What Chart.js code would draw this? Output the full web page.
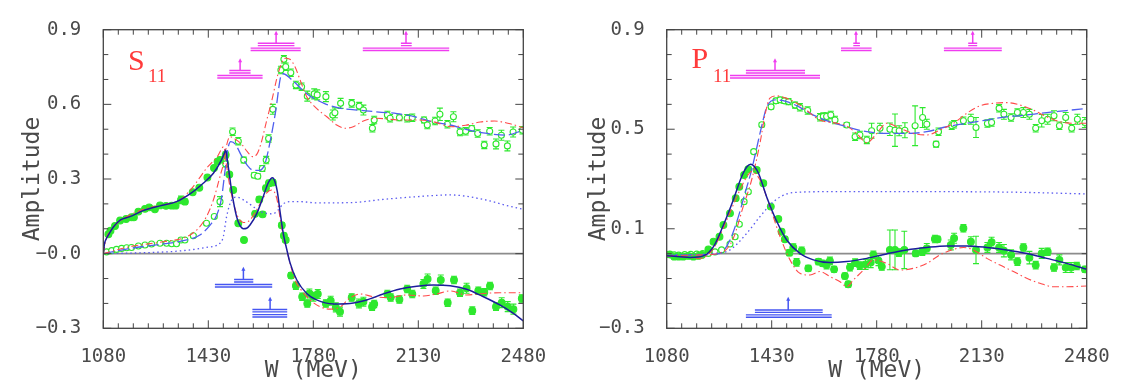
<!DOCTYPE html>
<html>
<head>
<meta charset="utf-8">
<script src="https://cdn.jsdelivr.net/npm/chart.js@4/dist/chart.umd.min.js"></script>
<style>
  html, body { margin: 0; padding: 0; background: #fff; }
  #wrap { position: relative; width: 1132px; height: 385px; }
  #wrap canvas { position: absolute; top: 0; }
</style>
</head>
<body>
<div id="wrap">
  <canvas id="s11" width="566" height="385" style="left:0"></canvas>
  <canvas id="p11" width="566" height="385" style="left:566px"></canvas>
</div>
<script>
// axis ticks
const xTicks = [1080, 1430, 1780, 2130, 2480];
const s11YTicks = [-0.3, 0, 0.3, 0.6, 0.9];
const p11YTicks = [-0.3, 0.1, 0.5, 0.9];

// ---- S11 data ----
const s11ReW = [1097,1104,1119,1136,1156,1174,1182,1197,1219,1233,1252,1269,1289,1308,1321,1339,1352,1378,1400,1427,1449,1461,1469,1488,1500,1513,1530,1549,1586,1600,1611,1622,1632,1645,1675,1682,1688,1706,1722,1743,1760,1767,1780,1795,1822,1838,1855,1869,1908,1932,1947,1976,1983,2027,2038,2067,2093,2110,2147,2161,2188,2205,2228,2249,2269,2291,2310,2330,2350,2369,2389,2408,2428,2447,2475];
const s11ReA = [0.078,0.092,0.111,0.133,0.139,0.146,0.146,0.169,0.180,0.186,0.178,0.194,0.192,0.193,0.193,0.216,0.209,0.247,0.265,0.306,0.344,0.370,0.377,0.397,0.318,0.256,0.122,0.055,0.160,0.218,0.158,0.263,0.283,0.286,0.114,0.072,0.055,-0.088,-0.129,-0.173,-0.200,-0.160,-0.173,-0.162,-0.200,-0.189,-0.216,-0.233,-0.176,-0.200,-0.193,-0.213,-0.202,-0.162,-0.176,-0.184,-0.142,-0.162,-0.122,-0.102,-0.149,-0.106,-0.197,-0.106,-0.157,-0.139,-0.229,-0.149,-0.155,-0.130,-0.213,-0.197,-0.213,-0.223,-0.180];
const s11ReErr = [0.006,0.006,0.006,0.006,0.006,0.006,0.006,0.006,0.007,0.007,0.007,0.007,0.007,0.008,0.008,0.015,0.010,0.006,0.006,0.006,0.008,0.010,0.010,0.012,0.008,0.008,0.008,0.008,0.010,0.010,0.010,0.012,0.012,0.012,0.010,0.010,0.010,0.012,0.015,0.015,0.015,0.018,0.018,0.018,0.015,0.018,0.018,0.018,0.015,0.018,0.018,0.015,0.015,0.015,0.015,0.015,0.015,0.015,0.018,0.020,0.015,0.020,0.015,0.015,0.015,0.020,0.015,0.015,0.015,0.015,0.015,0.020,0.020,0.020,0.015];

const s11ImW = [1091,1108,1124,1141,1158,1174,1197,1219,1241,1269,1291,1308,1324,1339,1352,1380,1424,1450,1469,1488,1511,1530,1548,1583,1595,1610,1623,1631,1645,1672,1682,1688,1705,1722,1741,1760,1783,1793,1822,1845,1852,1871,1908,1933,1947,1977,1983,2027,2036,2067,2093,2110,2149,2160,2186,2202,2227,2247,2269,2288,2308,2328,2350,2368,2389,2407,2427,2446,2477];
const s11ImA = [0.007,0.012,0.017,0.021,0.024,0.025,0.031,0.035,0.039,0.042,0.042,0.040,0.040,0.055,0.055,0.072,0.122,0.149,0.209,0.360,0.490,0.452,0.376,0.315,0.311,0.342,0.376,0.463,0.580,0.738,0.781,0.751,0.727,0.678,0.671,0.633,0.642,0.638,0.631,0.557,0.566,0.604,0.604,0.593,0.577,0.504,0.537,0.557,0.544,0.546,0.544,0.546,0.537,0.517,0.533,0.560,0.520,0.550,0.489,0.492,0.503,0.483,0.437,0.492,0.441,0.476,0.433,0.489,0.496];
const s11ImErr = [0.003,0.003,0.003,0.003,0.003,0.003,0.004,0.004,0.004,0.004,0.004,0.005,0.005,0.008,0.006,0.005,0.006,0.006,0.020,0.012,0.015,0.015,0.012,0.010,0.010,0.012,0.015,0.015,0.020,0.015,0.015,0.015,0.015,0.015,0.015,0.020,0.020,0.020,0.020,0.020,0.020,0.020,0.015,0.015,0.020,0.015,0.015,0.015,0.015,0.012,0.015,0.015,0.012,0.015,0.015,0.025,0.015,0.020,0.015,0.015,0.012,0.015,0.015,0.015,0.020,0.020,0.020,0.020,0.015];

const s11FitReW = [1080,1084,1090,1097,1113,1136,1169,1213,1269,1324,1369,1413,1447,1474,1484,1488,1493,1500,1508,1524,1535,1547,1558,1569,1591,1613,1630,1644,1652,1660,1669,1680,1691,1702,1725,1758,1791,1847,1902,1958,2013,2069,2125,2180,2236,2291,2347,2402,2447,2480];
const s11FitReA = [0.0,0.04,0.06,0.075,0.106,0.135,0.149,0.173,0.192,0.209,0.240,0.283,0.323,0.377,0.405,0.417,0.380,0.320,0.250,0.150,0.115,0.100,0.102,0.115,0.160,0.229,0.285,0.305,0.290,0.250,0.170,0.080,0.020,-0.035,-0.106,-0.160,-0.186,-0.202,-0.200,-0.186,-0.162,-0.142,-0.131,-0.126,-0.129,-0.143,-0.173,-0.206,-0.240,-0.270];

const s11FitImW = [1080,1169,1280,1358,1402,1436,1458,1474,1486,1495,1505,1520,1540,1560,1580,1601,1619,1637,1655,1671,1679,1710,1758,1818,1878,1938,1999,2059,2119,2179,2240,2300,2360,2420,2480];
const s11FitImA = [0.0,0.021,0.039,0.055,0.075,0.115,0.155,0.223,0.336,0.420,0.450,0.440,0.395,0.355,0.335,0.335,0.362,0.456,0.576,0.710,0.723,0.697,0.643,0.603,0.583,0.576,0.569,0.563,0.550,0.529,0.516,0.496,0.483,0.476,0.496];

const s11AltReW = [1080,1090,1113,1169,1224,1280,1336,1380,1424,1460,1482,1490,1502,1524,1547,1569,1591,1624,1641,1658,1674,1697,1719,1736,1769,1802,1836,1869,1902,1936,1980,2036,2091,2147,2191,2236,2291,2347,2402,2480];
const s11AltReA = [0.0,0.06,0.106,0.155,0.182,0.196,0.216,0.270,0.343,0.390,0.430,0.360,0.270,0.162,0.125,0.135,0.176,0.243,0.256,0.223,0.109,-0.012,-0.106,-0.140,-0.186,-0.213,-0.223,-0.215,-0.178,-0.162,-0.173,-0.176,-0.166,-0.170,-0.162,-0.150,-0.166,-0.160,-0.157,-0.157];

const s11AltImW = [1080,1169,1280,1358,1397,1424,1447,1469,1482,1492,1502,1520,1541,1560,1577,1592,1605,1625,1642,1663,1686,1702,1719,1736,1758,1791,1825,1858,1886,1913,1947,1991,2069,2136,2180,2240,2288,2336,2384,2432,2480];
const s11AltImA = [0.0,0.028,0.048,0.068,0.102,0.149,0.216,0.310,0.370,0.440,0.470,0.460,0.440,0.410,0.390,0.400,0.440,0.537,0.617,0.725,0.785,0.781,0.751,0.698,0.631,0.584,0.550,0.517,0.504,0.510,0.533,0.544,0.537,0.537,0.530,0.510,0.516,0.529,0.533,0.523,0.506];

const s11DotW = [1080,1224,1336,1424,1469,1480,1491,1508,1524,1547,1580,1602,1624,1645,1660,1680,1702,1736,1791,1902,2013,2125,2236,2347,2420,2480];
const s11DotA = [0.0,0.004,0.011,0.025,0.042,0.068,0.149,0.216,0.227,0.216,0.189,0.170,0.162,0.160,0.172,0.200,0.209,0.209,0.204,0.205,0.218,0.229,0.236,0.218,0.195,0.178];

// resonance marks: [mass, arrow tip, short lo, short hi, short A, long lo, long hi, long A]
const s11TopMarks = [
  [1536, 0.785, 1500, 1571, 0.731, 1460, 1611, 0.711],
  [1656, 0.896, 1595, 1717, 0.841, 1571, 1738, 0.821],
  [2089, 0.896, 2072, 2108, 0.841, 1945, 2233, 0.821]
];
const s11BotMarks = [
  [1547, -0.053, 1516, 1580, -0.109, 1452, 1643, -0.129],
  [1636, -0.173, 1577, 1693, -0.229, 1577, 1693, -0.250]
];

// ---- P11 data ----
const p11ReW = [1090,1105,1120,1135,1152,1169,1186,1197,1219,1236,1256,1269,1291,1310,1322,1338,1352,1380,1402,1427,1452,1463,1474,1489,1502,1513,1530,1552,1586,1600,1613,1624,1638,1674,1685,1691,1708,1724,1743,1760,1769,1786,1797,1824,1841,1854,1872,1910,1932,1947,1974,1983,2027,2038,2069,2094,2111,2149,2163,2188,2204,2228,2249,2269,2289,2310,2330,2350,2371,2389,2410,2428,2447,2474];
const p11ReA = [-0.003,-0.012,-0.012,-0.012,-0.009,-0.012,-0.009,-0.005,0.017,0.048,0.068,0.115,0.162,0.223,0.269,0.316,0.339,0.336,0.283,0.189,0.139,0.088,0.058,0.004,0.025,-0.035,0.012,-0.059,-0.032,-0.039,-0.046,-0.029,-0.063,-0.090,-0.123,-0.055,-0.036,-0.048,-0.043,-0.036,-0.005,-0.028,-0.052,0.015,0.015,0.004,0.015,0.001,0.008,0.021,0.059,0.058,0.035,0.062,0.102,0.048,0.015,0.025,0.046,0.025,0.012,-0.005,-0.032,0.025,-0.016,-0.046,0.001,0.008,-0.056,-0.025,-0.056,-0.056,-0.050,-0.063];
const p11ReErr = [0.004,0.004,0.004,0.004,0.004,0.004,0.004,0.004,0.005,0.005,0.005,0.005,0.006,0.006,0.006,0.008,0.008,0.008,0.008,0.008,0.008,0.010,0.010,0.012,0.015,0.015,0.015,0.012,0.012,0.012,0.015,0.015,0.012,0.012,0.012,0.015,0.015,0.015,0.020,0.020,0.015,0.020,0.015,0.080,0.080,0.015,0.075,0.012,0.015,0.020,0.015,0.012,0.020,0.020,0.015,0.020,0.055,0.020,0.020,0.020,0.025,0.020,0.015,0.015,0.025,0.015,0.020,0.015,0.015,0.020,0.020,0.020,0.015,0.012];

const p11ImW = [1090,1105,1120,1140,1160,1180,1200,1219,1241,1263,1291,1308,1322,1338,1352,1370,1397,1428,1444,1458,1472,1486,1508,1524,1550,1591,1602,1613,1627,1641,1680,1708,1724,1747,1763,1791,1824,1841,1855,1874,1908,1933,1947,1978,1986,2030,2038,2069,2094,2111,2149,2163,2188,2204,2228,2249,2269,2289,2310,2330,2350,2371,2389,2410,2430,2449,2474];
const p11ImA = [-0.004,-0.005,-0.006,-0.004,-0.003,-0.002,0.0,0.001,0.007,0.015,0.039,0.068,0.118,0.209,0.249,0.410,0.518,0.590,0.614,0.618,0.614,0.611,0.597,0.588,0.575,0.548,0.551,0.551,0.557,0.537,0.517,0.470,0.477,0.457,0.494,0.504,0.500,0.496,0.494,0.496,0.514,0.547,0.520,0.440,0.490,0.514,0.520,0.534,0.540,0.507,0.523,0.527,0.584,0.560,0.547,0.567,0.567,0.560,0.504,0.534,0.540,0.554,0.514,0.547,0.504,0.540,0.527];
const p11ImErr = [0.003,0.003,0.003,0.003,0.003,0.003,0.003,0.003,0.004,0.004,0.005,0.005,0.006,0.006,0.006,0.006,0.008,0.008,0.010,0.010,0.010,0.012,0.012,0.015,0.015,0.015,0.015,0.015,0.015,0.015,0.010,0.015,0.015,0.015,0.030,0.020,0.025,0.065,0.020,0.030,0.080,0.040,0.020,0.012,0.015,0.015,0.015,0.015,0.020,0.040,0.015,0.015,0.015,0.020,0.015,0.015,0.020,0.020,0.015,0.025,0.020,0.020,0.015,0.020,0.015,0.020,0.020];

const p11FitReW = [1080,1124,1158,1202,1236,1269,1302,1330,1348,1360,1372,1386,1413,1447,1480,1524,1569,1624,1680,1747,1813,1880,1947,2013,2080,2147,2213,2280,2347,2413,2480];
const p11FitReA = [-0.008,-0.012,-0.015,-0.009,0.028,0.115,0.216,0.310,0.350,0.359,0.350,0.323,0.229,0.129,0.055,0.001,-0.025,-0.036,-0.032,-0.019,-0.001,0.015,0.025,0.031,0.031,0.025,0.015,0.001,-0.019,-0.039,-0.063];

const p11FitImW = [1080,1200,1258,1291,1319,1341,1363,1386,1400,1413,1441,1480,1524,1569,1624,1680,1747,1813,1880,1947,2013,2080,2147,2213,2280,2347,2413,2480];
const p11FitImA = [-0.008,-0.004,0.001,0.055,0.149,0.243,0.336,0.457,0.530,0.588,0.618,0.611,0.588,0.557,0.530,0.510,0.490,0.483,0.483,0.490,0.510,0.524,0.537,0.550,0.557,0.567,0.575,0.584];

const p11AltReW = [1080,1124,1191,1236,1280,1324,1350,1363,1391,1424,1458,1491,1524,1558,1591,1624,1658,1680,1702,1736,1769,1813,1858,1902,1947,1991,2036,2069,2102,2147,2191,2236,2280,2324,2369,2413,2480];
const p11AltReA = [-0.008,-0.012,-0.019,0.021,0.135,0.256,0.315,0.330,0.296,0.189,0.068,-0.025,-0.079,-0.086,-0.072,-0.092,-0.113,-0.133,-0.106,-0.066,-0.025,-0.039,-0.066,-0.059,-0.039,-0.005,0.017,0.025,0.015,-0.019,-0.046,-0.072,-0.099,-0.119,-0.133,-0.133,-0.130];

const p11AltImW = [1080,1200,1269,1302,1335,1363,1391,1408,1424,1447,1480,1524,1591,1647,1680,1713,1747,1780,1813,1858,1902,1947,1991,2036,2080,2124,2169,2213,2258,2302,2347,2391,2436,2480];
const p11AltImA = [-0.008,-0.005,0.008,0.062,0.189,0.296,0.444,0.560,0.625,0.634,0.624,0.597,0.537,0.524,0.513,0.483,0.446,0.483,0.524,0.504,0.483,0.477,0.497,0.524,0.564,0.594,0.604,0.607,0.597,0.577,0.550,0.530,0.524,0.524];

const p11DotW = [1080,1236,1291,1347,1391,1436,1480,1524,1624,1791,2013,2236,2480];
const p11DotA = [-0.005,0.001,0.015,0.082,0.149,0.209,0.240,0.247,0.249,0.249,0.249,0.247,0.240];

const p11TopMarks = [
  [1441, 0.785, 1344, 1541, 0.731, 1291, 1591, 0.711],
  [1711, 0.896, 1702, 1724, 0.841, 1661, 1763, 0.821],
  [2100, 0.896, 2085, 2115, 0.841, 2004, 2197, 0.821]
];
const p11BotMarks = [
  [1485, -0.173, 1374, 1600, -0.231, 1344, 1630, -0.251]
];

const FONT = "'DejaVu Sans Mono', monospace";
const GREEN = '#2ee82e';

function pts(w, a) {
  return w.map((v, i) => ({x: v, y: a[i]}));
}

function curve(w, a, color, dash, width) {
  return {
    type: 'line', data: pts(w, a), borderColor: color, borderWidth: width,
    borderDash: dash, pointRadius: 0, fill: false, cubicInterpolationMode: 'monotone'
  };
}

function dots(w, a, err, filled) {
  return {
    type: 'scatter', data: pts(w, a), errors: err, showLine: false,
    borderColor: GREEN, backgroundColor: filled ? GREEN : '#fff',
    pointRadius: filled ? 3.4 : 3, borderWidth: 1.1
  };
}

// frame, inner ticks, zero line, error bars, resonance marks, wave label
const panelDecor = {
  id: 'panelDecor',
  beforeDatasetsDraw(chart, args, opts) {
    const {ctx, chartArea: a, scales: {x, y}} = chart;
    ctx.save();
    ctx.beginPath();
    ctx.rect(a.left, a.top, a.right - a.left, a.bottom - a.top);
    ctx.clip();
    const y0 = y.getPixelForValue(0);
    ctx.strokeStyle = '#8c8c8c';
    ctx.lineWidth = 1.6;
    ctx.beginPath();
    ctx.moveTo(a.left, y0);
    ctx.lineTo(a.right, y0);
    ctx.stroke();

    ctx.lineWidth = 1.1;
    chart.data.datasets.forEach(ds => {
      if (!ds.errors) return;
      ctx.strokeStyle = GREEN;
      ds.data.forEach((p, j) => {
        const e = ds.errors[j];
        const px = x.getPixelForValue(p.x);
        const t = y.getPixelForValue(p.y + e);
        const b = y.getPixelForValue(p.y - e);
        ctx.beginPath();
        ctx.moveTo(px, t); ctx.lineTo(px, b);
        ctx.moveTo(px - 3, t); ctx.lineTo(px + 3, t);
        ctx.moveTo(px - 3, b); ctx.lineTo(px + 3, b);
        ctx.stroke();
      });
    });
    ctx.restore();
  },
  afterDatasetsDraw(chart, args, opts) {
    const {ctx, scales: {x, y}} = chart;
    const drawMarks = (marks, color) => {
      ctx.strokeStyle = color;
      ctx.fillStyle = color;
      marks.forEach(m => {
        const px = x.getPixelForValue(m[0]);
        const tip = y.getPixelForValue(m[1]);
        const sy = y.getPixelForValue(m[4]);
        const ly = y.getPixelForValue(m[7]);
        ctx.lineWidth = 1.4;
        [[m[2], m[3], sy], [m[5], m[6], ly]].forEach(([lo, hi, py]) => {
          const x1 = x.getPixelForValue(lo), x2 = x.getPixelForValue(hi);
          ctx.beginPath();
          ctx.moveTo(x1, py - 1.2); ctx.lineTo(x2, py - 1.2);
          ctx.moveTo(x1, py + 1.2); ctx.lineTo(x2, py + 1.2);
          ctx.stroke();
        });
        ctx.lineWidth = 1.5;
        ctx.beginPath();
        ctx.moveTo(px, sy - 1);
        ctx.lineTo(px, tip + 3);
        ctx.stroke();
        ctx.beginPath();
        ctx.moveTo(px, tip);
        ctx.lineTo(px - 2, tip + 4);
        ctx.lineTo(px + 2, tip + 4);
        ctx.closePath();
        ctx.fill();
      });
    };
    ctx.save();
    drawMarks(opts.top, '#f03cf0');
    drawMarks(opts.bottom, '#4656f2');
    ctx.restore();
  },
  afterDraw(chart, args, opts) {
    const {ctx, chartArea: a, scales: {x, y}} = chart;
    ctx.save();
    ctx.strokeStyle = '#444';
    ctx.lineWidth = 1.3;
    ctx.strokeRect(a.left, a.top, a.right - a.left, a.bottom - a.top);
    ctx.lineWidth = 1;
    ctx.beginPath();
    for (let w = xTicks[0]; w <= xTicks[xTicks.length - 1] + 0.1; w += 50) {
      const px = x.getPixelForValue(w);
      const len = xTicks.includes(w) ? 8 : 5;
      ctx.moveTo(px, a.bottom); ctx.lineTo(px, a.bottom - len);
      ctx.moveTo(px, a.top); ctx.lineTo(px, a.top + len);
    }
    for (let k = -3; k <= 9; k++) {
      const v = k / 10;
      const py = y.getPixelForValue(v);
      const major = opts.yMajor.some(t => Math.abs(t - v) < 1e-6);
      const len = major ? 8 : 5;
      ctx.moveTo(a.left, py); ctx.lineTo(a.left + len, py);
      ctx.moveTo(a.right, py); ctx.lineTo(a.right - len, py);
    }
    ctx.stroke();

    const lb = opts.label;
    ctx.fillStyle = '#ff3b3b';
    ctx.textBaseline = 'alphabetic';
    ctx.font = "30px 'Liberation Serif', serif";
    ctx.fillText(lb.main, x.getPixelForValue(lb.w), y.getPixelForValue(lb.a));
    ctx.font = "19px 'Liberation Serif', serif";
    ctx.fillText(lb.sub, x.getPixelForValue(lb.subW), y.getPixelForValue(lb.subA));
    ctx.restore();
  }
};

function fmt(v, negZero) {
  if (Math.abs(v) < 1e-9) return negZero ? '\u22120.0' : '0.0';
  const s = Math.abs(v).toFixed(1);
  return v < 0 ? '\u2212' + s : s;
}

function makeChart(id, datasets, yTicks, negZero, yWidth, rightPad, decor) {
  return new Chart(document.getElementById(id), {
    type: 'scatter',
    data: {datasets: datasets},
    options: {
      responsive: false,
      animation: false,
      events: [],
      layout: {padding: {top: 29.7, right: rightPad, left: 0, bottom: 0}},
      plugins: {
        legend: {display: false},
        tooltip: {enabled: false},
        panelDecor: decor
      },
      scales: {
        x: {
          type: 'linear', min: 1080, max: 2480,
          afterBuildTicks: s => { s.ticks = xTicks.map(v => ({value: v})); },
          afterFit: s => { s.height = 56.7; },
          grid: {display: false},
          border: {display: false},
          ticks: {font: {family: FONT, size: 19}, color: '#4a4a4a', padding: 9, maxRotation: 0, autoSkip: false,
                  callback: v => String(v)},
          title: {display: true, text: 'W (MeV)', font: {family: FONT, size: 23}, color: '#4a4a4a', padding: {top: 0, bottom: 0}}
        },
        y: {
          type: 'linear', min: -0.3, max: 0.9,
          afterBuildTicks: s => { s.ticks = yTicks.map(v => ({value: v})); },
          afterFit: s => { s.width = yWidth; },
          grid: {display: false},
          border: {display: false},
          ticks: {font: {family: FONT, size: 19}, color: '#4a4a4a', padding: 14, callback: v => fmt(v, negZero)},
          title: {display: true, text: 'Amplitude', font: {family: FONT, size: 23}, color: '#4a4a4a', padding: {top: 19, bottom: 0}}
        }
      }
    },
    plugins: [panelDecor]
  });
}

makeChart('s11', [
  curve(s11FitReW, s11FitReA, '#1c1c9c', [], 1.5),
  curve(s11AltReW, s11AltReA, '#ff4a4a', [7, 3, 1.5, 3], 1.1),
  curve(s11AltImW, s11AltImA, '#ff4a4a', [7, 3, 1.5, 3], 1.1),
  curve(s11FitImW, s11FitImA, '#4f5fef', [11, 4], 1.3),
  curve(s11DotW, s11DotA, '#5a5af0', [1.5, 3], 1.3),
  dots(s11ReW, s11ReA, s11ReErr, true),
  dots(s11ImW, s11ImA, s11ImErr, false)
], s11YTicks, true, 103.3, 42.7, {
  top: s11TopMarks, bottom: s11BotMarks, yMajor: s11YTicks,
  label: {main: 'S', sub: '11', w: 1162, a: 0.738, subW: 1229, subA: 0.69}
});

makeChart('p11', [
  curve(p11FitReW, p11FitReA, '#1c1c9c', [], 1.5),
  curve(p11AltReW, p11AltReA, '#ff4a4a', [7, 3, 1.5, 3], 1.1),
  curve(p11AltImW, p11AltImA, '#ff4a4a', [7, 3, 1.5, 3], 1.1),
  curve(p11FitImW, p11FitImA, '#4f5fef', [11, 4], 1.3),
  curve(p11DotW, p11DotA, '#5a5af0', [1.5, 3], 1.3),
  dots(p11ReW, p11ReA, p11ReErr, true),
  dots(p11ImW, p11ImA, p11ImErr, false)
], p11YTicks, false, 100.7, 45.3, {
  top: p11TopMarks, bottom: p11BotMarks, yMajor: p11YTicks,
  label: {main: 'P', sub: '11', w: 1163, a: 0.746, subW: 1234, subA: 0.69}
});
</script>
</body>
</html>
